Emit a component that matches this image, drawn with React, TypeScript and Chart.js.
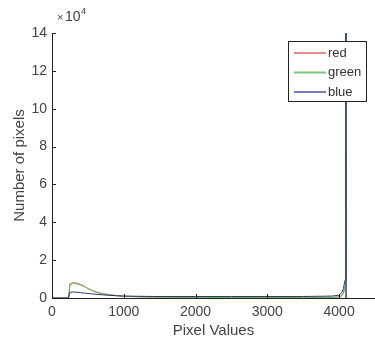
import React, { useEffect, useRef } from "react";
import { Chart, registerables } from "chart.js";

Chart.register(...registerables);

// Pixel values (bin positions) and pixel counts (in units of 10^4)
const pixelValues = [0, 230, 250, 300, 350, 400, 450, 500, 550, 600, 700, 800, 900, 1000, 1200, 1400, 1600, 2000, 2500, 3000, 3500, 3900, 4000, 4040, 4060, 4080, 4093, 4095, 4097];
const redCounts = [0, 0, 0.75, 0.82, 0.78, 0.72, 0.62, 0.5, 0.42, 0.34, 0.24, 0.18, 0.13, 0.1, 0.07, 0.05, 0.04, 0.03, 0.02, 0.02, 0.02, 0.03, 0.05, 0.12, 0.25, 0.5, 0.7, 15, 0];
const greenCounts = [0, 0, 0.7, 0.78, 0.74, 0.68, 0.6, 0.5, 0.4, 0.32, 0.22, 0.16, 0.12, 0.09, 0.06, 0.05, 0.04, 0.03, 0.02, 0.02, 0.02, 0.03, 0.06, 0.15, 0.3, 0.6, 0.8, 15, 0];
const blueCounts = [0, 0, 0.3, 0.32, 0.3, 0.28, 0.26, 0.24, 0.22, 0.2, 0.17, 0.14, 0.12, 0.1, 0.09, 0.08, 0.08, 0.08, 0.08, 0.08, 0.08, 0.1, 0.15, 0.3, 0.5, 0.9, 1.0, 15, 0];
const seriesLabels = ["red", "green", "blue"];
const seriesColors = ["#e06a6a", "#5cb85c", "#34346e"];
const yTickValues = [0, 2, 4, 6, 8, 10, 12, 14];
const xTickValues = [0, 1000, 2000, 3000, 4000];

const FONT = "'Liberation Sans', Arial, sans-serif";

const extrasPlugin = {
  id: "extras",
  afterDraw(chart: any) {
    const ctx = chart.ctx;
    const x = chart.scales.x;
    const y = chart.scales.y;
    ctx.save();
    // inward tick marks
    ctx.strokeStyle = "#222";
    ctx.lineWidth = 1;
    ctx.beginPath();
    for (const v of yTickValues) {
      const py = Math.round(y.getPixelForValue(v)) + 0.5;
      ctx.moveTo(x.left, py);
      ctx.lineTo(x.left + 4, py);
    }
    for (const v of xTickValues) {
      const px = Math.round(x.getPixelForValue(v)) + 0.5;
      ctx.moveTo(px, y.bottom);
      ctx.lineTo(px, y.bottom - 4);
    }
    ctx.stroke();
    // exponent
    ctx.fillStyle = "#444";
    ctx.font = `11px ${FONT}`;
    ctx.textBaseline = "alphabetic";
    ctx.fillText("\u00d7", x.left + 5, y.top - 12);
    ctx.font = `14px ${FONT}`;
    ctx.fillText("10", x.left + 13, y.top - 12);
    ctx.font = `9px ${FONT}`;
    ctx.fillText("4", x.left + 29, y.top - 19);
    // legend
    const lx = 288, ly = 41, lw = 78, lh = 60;
    ctx.fillStyle = "#fff";
    ctx.fillRect(lx, ly, lw, lh);
    ctx.strokeStyle = "#222";
    ctx.strokeRect(lx + 0.5, ly + 0.5, lw, lh);
    ctx.font = `13px ${FONT}`;
    ctx.textBaseline = "middle";
    chart.data.datasets.forEach((ds: any, i: number) => {
      const ey = ly + 12 + i * 19.5;
      ctx.strokeStyle = ds.legendColor;
      ctx.lineWidth = 2;
      ctx.beginPath();
      ctx.moveTo(lx + 6, ey);
      ctx.lineTo(lx + 38, ey);
      ctx.stroke();
      ctx.fillStyle = "#333";
      ctx.fillText(ds.label, lx + 40, ey);
    });
    ctx.restore();
  },
};

export default function App() {
  const ref = useRef<HTMLCanvasElement | null>(null);
  useEffect(() => {
    if (!ref.current) return;
    const series = [redCounts, greenCounts, blueCounts];
    const legendColors = ["#e88a8a", "#7ac87a", "#7a7ac4"];
    const chart = new Chart(ref.current, {
      type: "line",
      data: {
        datasets: series.map((vals, i) => ({
          label: seriesLabels[i],
          data: pixelValues.map((px, j) => ({ x: px, y: vals[j] })),
          borderColor: seriesColors[i],
          legendColor: legendColors[i],
          order: 2 - i,
          borderWidth: 1,
          pointRadius: 0,
          tension: 0,
          fill: false,
        })) as any,
      },
      options: {
        animation: false,
        responsive: false,
        maintainAspectRatio: false,
        layout: { padding: { top: 33, right: 0, left: 0, bottom: 0 } },
        plugins: { legend: { display: false }, tooltip: { enabled: false } },
        scales: {
          x: {
            type: "linear",
            min: 0,
            max: 4500,
            afterFit: (s: any) => { s.height = 47; },
            afterBuildTicks: (s: any) => { s.ticks = xTickValues.map((v) => ({ value: v })); },
            grid: { display: false, drawTicks: false },
            border: { display: true, color: "#222", width: 1 },
            ticks: { color: "#444", font: { family: FONT, size: 14 }, padding: 6, maxRotation: 0, autoSkip: false, callback: (v: any) => String(v) },
            title: { display: true, text: "Pixel Values", color: "#444", font: { family: FONT, size: 15 }, padding: { top: 0, bottom: 5 } },
          },
          y: {
            type: "linear",
            min: 0,
            max: 14,
            afterFit: (s: any) => { s.width = 52; },
            afterBuildTicks: (s: any) => { s.ticks = yTickValues.map((v) => ({ value: v })); },
            grid: { display: false, drawTicks: false },
            border: { display: true, color: "#222", width: 1 },
            ticks: { color: "#444", font: { family: FONT, size: 14 }, padding: 5, autoSkip: false, callback: (v: any) => String(v) },
            title: { display: true, text: "Number of pixels", color: "#444", font: { family: FONT, size: 15 }, padding: { top: 11, bottom: 0 } },
          },
        },
      },
      plugins: [extrasPlugin],
    });
    return () => chart.destroy();
  }, []);
  return (
    <div style={{ position: "absolute", left: 0, top: 0, width: 375, height: 345, background: "#fff" }}>
      <canvas ref={ref} width={375} height={345} style={{ width: 375, height: 345 }} />
    </div>
  );
}
